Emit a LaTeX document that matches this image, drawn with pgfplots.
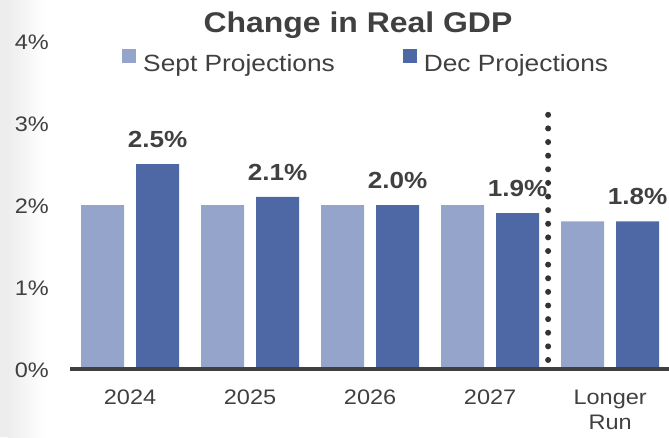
\documentclass[border=0pt]{standalone}
\usepackage{pgfplots}
\pgfplotsset{compat=1.18}
\usepackage{fontspec}
\setmainfont{Liberation Sans}[FakeStretch=1.12]
\definecolor{septc}{HTML}{95A4CB}
\definecolor{decc}{HTML}{4E67A5}
\definecolor{txt}{HTML}{404040}
\definecolor{dotc}{HTML}{333333}
\begin{document}
\begin{tikzpicture}
\useasboundingbox (0,0) rectangle (669pt,437pt);
\fill[black!7] (0,0) rectangle (8pt,437pt);
\shade[left color=black!7, right color=white] (8pt,0) rectangle (45pt,437pt);
\begin{axis}[
 at={(70pt,68pt)}, anchor=south west,
 scale only axis, width=599pt, height=328pt,
 xmin=-0.5, xmax=4.49, ymin=0, ymax=4,
 ybar=12pt, bar width=43pt,
 axis line style={draw=none},
 major tick length=0pt,
 xtick={0,1,2,3,4},
 xticklabels={2024,2025,2026,2027,{Longer\\Run}},
 xticklabel style={align=center, inner sep=0pt, anchor=north, yshift=-21pt, font=\fontsize{21}{25}\selectfont, text=txt},
 ytick={0,1,2,3,4},
 yticklabels={0\%,1\%,2\%,3\%,4\%},
 yticklabel style={inner sep=0pt, anchor=east, xshift=-21pt, yshift=-1.5pt, font=\fontsize{21}{25}\selectfont, text=txt},
 title={Change in Real GDP},
 title style={at={(0.4808,1.0085)}, anchor=base, inner sep=0pt, font=\bfseries\fontsize{28.5}{32}\selectfont, text=txt},
 legend columns=2,
 legend style={at={(0.0818,0.983)}, anchor=north west, draw=none, fill=none, font=\fontsize{23.5}{28}\selectfont, text=txt, nodes={inner sep=0pt}, /tikz/every odd column/.append style={column sep=7pt}, /tikz/every even column/.append style={column sep=68pt}},
 legend image code/.code={\fill[#1] (0pt,1pt) rectangle (14pt,15pt);},
 clip=false,
]
\addplot[fill=septc, draw=none] coordinates {(0,2.0) (1,2.0) (2,2.0) (3,2.0) (4,1.8)};
\addplot[fill=decc, draw=none,
  nodes near coords={\pgfmathprintnumber[fixed,fixed zerofill,precision=1,assume math mode=true]{\pgfplotspointmeta}\%},
  every node near coord/.append style={anchor=base, inner sep=0pt, yshift=16.5pt, font=\bfseries\fontsize{23.3}{28}\selectfont, text=txt}]
  coordinates {(0,2.5) (1,2.1) (2,2.0) (3,1.9) (4,1.8)};
\legend{Sept Projections, Dec Projections}
\draw[dotc, line width=6pt, line cap=round, dash pattern=on 0pt off 13.62pt] (axis cs:3.483,0.11) -- (axis cs:3.483,3.265);
\draw[txt, line width=4pt] (rel axis cs:0,0) -- (rel axis cs:1,0);
\end{axis}
\end{tikzpicture}
\end{document}
